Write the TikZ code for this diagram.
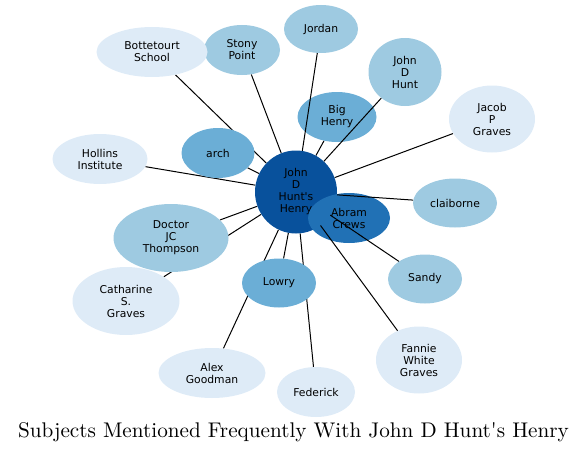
\documentclass[tikz,border=0pt]{standalone}
\usepackage{fontspec}
\usepackage{xcolor}
\usetikzlibrary{shapes.geometric, backgrounds}
\newfontfamily\dejavu{DejaVu Sans}
\newfontfamily\titlefont[Extension=.otf]{lmroman10-regular}

\definecolor{tone1}{HTML}{DEEBF7}
\definecolor{tone2}{HTML}{9ECAE1}
\definecolor{tone3}{HTML}{6BAED6}
\definecolor{tone4}{HTML}{2171B5}
\definecolor{tone5}{HTML}{08519C}

\begin{document}
\begin{tikzpicture}[
  x=1pt, y=-1pt,
  subj/.style={
    ellipse, fill=#1, draw=none, inner sep=0pt,
    align=center, font=\dejavu\fontsize{10.8}{12}\selectfont},
  link/.style={black, line width=1pt}
]
\useasboundingbox (0,0) rectangle (588,452);

%% ── HUB ──────────────────────────────────────────────────
\node[subj=tone5, minimum width=82, minimum height=83] (hunts) at (296,192)
                                           {John\\D\\Hunt\textquotesingle s\\Henry};
\node[subj=tone4, minimum width=82, minimum height=50] (abram) at (349,218)
                                           {Abram\\Crews};
\node[subj=tone3, minimum width=79, minimum height=50] (bighen) at (337,117)
                                           {Big\\Henry};

%% ── SUBJECTS WHOSE LINKS RUN OVER OTHERS ─────────────────
\node[subj=tone2, minimum width=74, minimum height=48] (jordan) at (321,29)  {Jordan};
\node[subj=tone2, minimum width=73, minimum height=68] (jdhunt) at (405,72)  {John\\D\\Hunt};
\node[subj=tone2, minimum width=84, minimum height=49] (claib)  at (455,203) {claiborne};
\node[subj=tone2, minimum width=74, minimum height=49] (sandy)  at (425,279) {Sandy};
\node[subj=tone1, minimum width=86, minimum height=67] (fannie) at (419,360)
                                           {Fannie\\White\\Graves};

\foreach \other in {jordan, jdhunt, claib, sandy, fannie}
  \draw[link] (hunts) -- (\other);

%% ── OTHER SUBJECTS ───────────────────────────────────────
\node[subj=tone2, minimum width=76, minimum height=50]  (stony)   at (242,50)  {Stony\\Point};
\node[subj=tone1, minimum width=111, minimum height=50] (bott)    at (152,52)  {Bottetourt\\School};
\node[subj=tone1, minimum width=86, minimum height=67]  (jacob)   at (492,119) {Jacob\\P\\Graves};
\node[subj=tone3, minimum width=73, minimum height=50]  (arch)    at (218,153) {arch};
\node[subj=tone1, minimum width=95, minimum height=50]  (hollins) at (100,159) {Hollins\\Institute};
\node[subj=tone2, minimum width=115, minimum height=68] (doctor)  at (171,238) {Doctor\\JC\\Thompson};
\node[subj=tone1, minimum width=107, minimum height=68] (cath)    at (126,301) {Catharine\\S.\\Graves};
\node[subj=tone3, minimum width=74, minimum height=49]  (lowry)   at (279,283) {Lowry};
\node[subj=tone1, minimum width=107, minimum height=50] (alex)    at (212,373) {Alex\\Goodman};
\node[subj=tone1, minimum width=78, minimum height=50]  (feder)   at (316,392) {Federick};

%% Links behind the ellipses
\begin{scope}[on background layer]
  \foreach \other in {abram, bighen, stony, bott, jacob, arch,
                      hollins, doctor, cath, lowry, alex, feder}
    \draw[link] (hunts) -- (\other);
\end{scope}

%% ── TITLE ────────────────────────────────────────────────
\node[anchor=base, font=\titlefont\fontsize{21.2}{25}\selectfont] (title) at (293.5,437)
  {Subjects Mentioned Frequently With John D Hunt\textquotesingle s Henry};

\end{tikzpicture}
\end{document}
